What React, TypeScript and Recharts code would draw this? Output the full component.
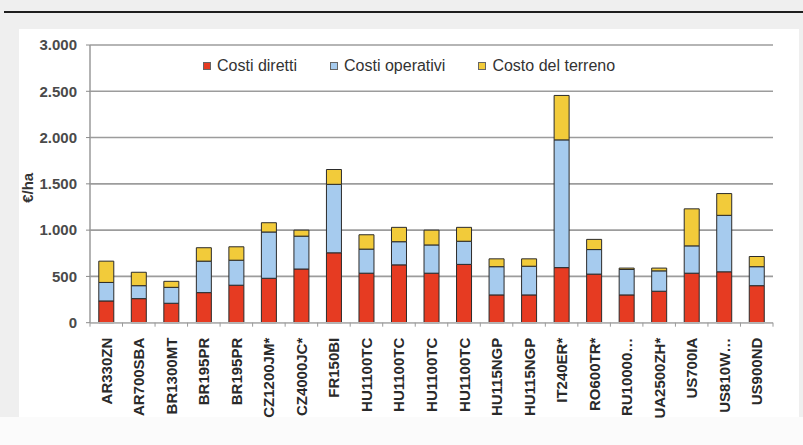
import React from "react";
import { BarChart, Bar, XAxis, YAxis, CartesianGrid, Label } from "recharts";

// Farm codes along the horizontal axis
const categories = [
  "AR330ZN", "AR700SBA", "BR1300MT", "BR195PR", "BR195PR", "CZ1200JM*",
  "CZ4000JC*", "FR150BI", "HU1100TC", "HU1100TC", "HU1100TC", "HU1100TC",
  "HU115NGP", "HU115NGP", "IT240ER*", "RO600TR*", "RU10000…", "UA2500ZH*",
  "US700IA", "US810W…", "US900ND",
];

// Cost components, €/ha
const costiDiretti = [235, 260, 210, 325, 405, 480, 580, 755, 535, 625, 535, 630, 300, 300, 595, 525, 300, 340, 535, 550, 400];
const costiOperativi = [200, 140, 172, 340, 270, 500, 355, 740, 260, 250, 305, 250, 305, 310, 1380, 265, 275, 220, 295, 610, 205];
const costoTerreno = [230, 145, 65, 145, 145, 100, 65, 160, 155, 155, 160, 150, 85, 80, 480, 110, 15, 30, 400, 235, 110];

const yTicks = [0, 500, 1000, 1500, 2000, 2500, 3000];

const series = [
  { key: "diretti", name: "Costi diretti", color: "#e63b22" },
  { key: "operativi", name: "Costi operativi", color: "#a6cbee" },
  { key: "terreno", name: "Costo del terreno", color: "#f2cb3a" },
];

const data = categories.map((c, i) => ({
  name: c,
  diretti: costiDiretti[i],
  operativi: costiOperativi[i],
  terreno: costoTerreno[i],
}));

const FONT = '"Liberation Sans", Arial, sans-serif';

const formatThousands = (n: number) =>
  n >= 1000 ? `${Math.floor(n / 1000)}.${String(n % 1000).padStart(3, "0")}` : String(n);

// Rotated category label plus Excel-style tick marks at band edges
const CategoryTick = (props: any) => {
  const { x, y, payload, index, visibleTicksCount } = props;
  const half = payload && payload.offset ? payload.offset : 0;
  const isLast = index === (visibleTicksCount ?? categories.length) - 1;
  return (
    <g>
      <line x1={x - half} x2={x - half} y1={y} y2={y + 4} stroke="#9a9a9a" strokeWidth={1} />
      {isLast && <line x1={x + half} x2={x + half} y1={y} y2={y + 4} stroke="#9a9a9a" strokeWidth={1} />}
      <text
        transform={`translate(${x},${y + 15}) rotate(-90)`}
        textAnchor="end"
        dominantBaseline="central"
        fontFamily={FONT}
        fontWeight="bold"
        fontSize={15}
        fill="#2a2a2a"
      >
        {payload.value}
      </text>
    </g>
  );
};

const YTitle = (props: any) => {
  const vb = props.viewBox || { x: 30, y: 45, width: 60, height: 278 };
  const cx = vb.x - 3;
  const cy = vb.y + vb.height / 2 + 4;
  return (
    <text
      transform={`translate(${cx},${cy}) rotate(-90)`}
      textAnchor="middle"
      dominantBaseline="central"
      fontFamily={FONT}
      fontWeight="bold"
      fontSize={15}
      fill="#333"
    >
      €/ha
    </text>
  );
};

export default function App() {
  return (
    <div
      style={{
        position: "absolute",
        left: 0,
        top: 0,
        width: 803,
        height: 445,
        background: "#efefef",
        overflow: "hidden",
      }}
    >
      <div style={{ position: "absolute", left: 4, right: 0, top: 11, height: 2, background: "#1e1e1e" }} />
      <div style={{ position: "absolute", left: 19, top: 29, width: 780, height: 388, background: "#ffffff" }} />
      <div style={{ position: "absolute", left: 0, top: 417, width: 803, height: 28, background: "#fbfbfb" }} />

      <div style={{ position: "absolute", left: 0, top: 0 }}>
        <BarChart
          width={803}
          height={445}
          data={data}
          margin={{ top: 45, right: 30, bottom: 0, left: 30 }}
          barCategoryGap="27%"
        >
          <CartesianGrid vertical={false} stroke="#9c9c9c" strokeWidth={1.6} />
          <XAxis
            dataKey="name"
            height={122.3}
            interval={0}
            tickLine={false}
            tickSize={0}
            tickMargin={0}
            axisLine={{ stroke: "#b4b4b4", strokeWidth: 1.5 }}
            tick={<CategoryTick />}
          />
          <YAxis
            width={60}
            domain={[0, 3000]}
            ticks={yTicks}
            interval={0}
            tickFormatter={formatThousands}
            tickSize={4}
            tickMargin={9}
            tickLine={{ stroke: "#8a8a8a" }}
            axisLine={{ stroke: "#9a9a9a", strokeWidth: 1.5 }}
            tick={{ fontFamily: FONT, fontWeight: "bold", fontSize: 15, fill: "#4a4a4a" }}
          >
            <Label content={<YTitle />} position="left" />
          </YAxis>
          <YAxis
            yAxisId="frame"
            orientation="right"
            width={0}
            domain={[0, 3000]}
            tick={false}
            tickLine={false}
            axisLine={{ stroke: "#cfcfcf", strokeWidth: 2 }}
          />
          {series.map((s) => (
            <Bar
              key={s.key}
              dataKey={s.key}
              name={s.name}
              stackId="costi"
              fill={s.color}
              stroke="#2b2b2b"
              strokeWidth={1}
              isAnimationActive={false}
            />
          ))}
        </BarChart>
      </div>

      <div
        style={{
          position: "absolute",
          left: 203,
          top: 57,
          display: "flex",
          alignItems: "center",
          gap: 33,
          fontFamily: FONT,
          fontSize: 16,
          color: "#333",
          whiteSpace: "nowrap",
        }}
      >
        {series.map((s) => (
          <div key={s.key} style={{ display: "flex", alignItems: "center" }}>
            <span
              style={{
                display: "inline-block",
                width: 6,
                height: 6,
                background: s.color,
                border: "1px solid #666",
                marginRight: 6,
              }}
            />
            <span>{s.name}</span>
          </div>
        ))}
      </div>
    </div>
  );
}
